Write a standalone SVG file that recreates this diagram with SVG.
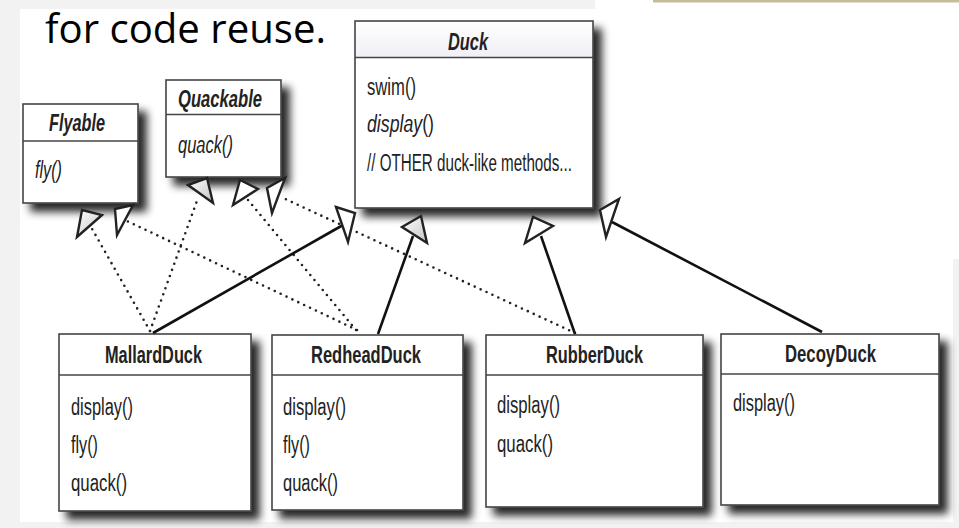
<svg xmlns="http://www.w3.org/2000/svg" width="959" height="528" viewBox="0 0 959 528">
<defs>
<filter id="sh" x="-20%" y="-20%" width="150%" height="150%">
<feGaussianBlur in="SourceAlpha" stdDeviation="4.5"/>
<feOffset dx="8" dy="8" result="b"/>
<feComponentTransfer><feFuncA type="linear" slope="0.85"/></feComponentTransfer>
<feMerge><feMergeNode/><feMergeNode in="SourceGraphic"/></feMerge>
</filter>
<linearGradient id="hg" x1="0" y1="0" x2="0" y2="1">
<stop offset="0" stop-color="#ffffff"/><stop offset="1" stop-color="#efeff6"/>
</linearGradient>
<linearGradient id="ag" x1="0" y1="0" x2="1" y2="1">
<stop offset="0" stop-color="#ffffff"/><stop offset="1" stop-color="#c4c4c4"/>
</linearGradient>
</defs>
<style>
.box{fill:#fff;stroke:#444;stroke-width:1.6}
.sep{stroke:#444;stroke-width:1.6}
.t{font-family:"Liberation Sans",Arial,sans-serif;font-weight:bold;font-size:24px;fill:#222}
.ti{font-style:italic}
.m{font-family:"Liberation Sans",Arial,sans-serif;font-size:23px;fill:#222}
.i{font-style:italic}
.dot{fill:none;stroke:#222;stroke-width:2.6;stroke-linecap:round;stroke-dasharray:0 6.5}
.sol{fill:none;stroke:#111;stroke-width:2.6}
.ah{stroke:#222;stroke-width:2.4;stroke-linejoin:miter}
.aw{fill:#fff}
.agr{fill:url(#ag)}
</style>
<rect x="0" y="0" width="959" height="528" fill="#f2f2f2"/>
<rect x="20" y="9" width="576" height="513" fill="#fff"/>
<rect x="595" y="0" width="364" height="259" fill="#fff"/>
<rect x="595" y="259" width="358" height="263" fill="#fff"/>
<rect x="653" y="0" width="306" height="2.5" fill="#c7bc98"/>
<text x="45" y="43" font-family="'Open Sans','Noto Sans',sans-serif" font-size="40" fill="#000" textLength="281" lengthAdjust="spacingAndGlyphs">for code reuse.</text>

<g id="Duck">
<g filter="url(#sh)"><rect class="box" x="355" y="21" width="238" height="187"/></g>
<rect x="356" y="22" width="236" height="35" fill="url(#hg)"/>
<line class="sep" x1="355" y1="57.5" x2="593" y2="57.5"/>
<text class="t ti" x="448" y="50" textLength="40" lengthAdjust="spacingAndGlyphs">Duck</text>
<text class="m" x="367" y="95" textLength="49" lengthAdjust="spacingAndGlyphs">swim()</text>
<text class="m" x="367" y="132" textLength="67" lengthAdjust="spacingAndGlyphs"><tspan class="i">display</tspan>()</text>
<text class="m" x="367" y="171" textLength="205" lengthAdjust="spacingAndGlyphs">// OTHER duck-like methods...</text>
</g>

<g id="Flyable">
<g filter="url(#sh)"><rect class="box" x="23" y="104" width="115" height="99"/></g>
<line class="sep" x1="23" y1="141" x2="138" y2="141"/>
<text class="t ti" x="49" y="131" textLength="56" lengthAdjust="spacingAndGlyphs">Flyable</text>
<text class="m i" x="35" y="178" textLength="27" lengthAdjust="spacingAndGlyphs">fly()</text>
</g>

<g id="Quackable">
<g filter="url(#sh)"><rect class="box" x="166" y="80" width="115" height="97"/></g>
<line class="sep" x1="166" y1="114.5" x2="281" y2="114.5"/>
<text class="t ti" x="178" y="107" textLength="84" lengthAdjust="spacingAndGlyphs">Quackable</text>
<text class="m i" x="178" y="153" textLength="55" lengthAdjust="spacingAndGlyphs">quack()</text>
</g>

<g id="MallardDuck">
<g filter="url(#sh)"><rect class="box" x="59" y="334" width="192" height="177"/></g>
<line class="sep" x1="59" y1="375" x2="251" y2="375"/>
<text class="t" x="105" y="363" textLength="97" lengthAdjust="spacingAndGlyphs">MallardDuck</text>
<text class="m" x="71" y="415" textLength="62" lengthAdjust="spacingAndGlyphs">display()</text>
<text class="m" x="71" y="453" textLength="27" lengthAdjust="spacingAndGlyphs">fly()</text>
<text class="m" x="71" y="491" textLength="56" lengthAdjust="spacingAndGlyphs">quack()</text>
</g>

<g id="RedheadDuck">
<g filter="url(#sh)"><rect class="box" x="272" y="335" width="191" height="175"/></g>
<line class="sep" x1="272" y1="375" x2="463" y2="375"/>
<text class="t" x="311" y="363" textLength="110" lengthAdjust="spacingAndGlyphs">RedheadDuck</text>
<text class="m" x="283" y="415" textLength="63" lengthAdjust="spacingAndGlyphs">display()</text>
<text class="m" x="283" y="453" textLength="27" lengthAdjust="spacingAndGlyphs">fly()</text>
<text class="m" x="283" y="491" textLength="55" lengthAdjust="spacingAndGlyphs">quack()</text>
</g>

<g id="RubberDuck">
<g filter="url(#sh)"><rect class="box" x="486" y="335" width="217" height="172"/></g>
<line class="sep" x1="486" y1="375" x2="703" y2="375"/>
<text class="t" x="546" y="363" textLength="97" lengthAdjust="spacingAndGlyphs">RubberDuck</text>
<text class="m" x="497" y="413" textLength="63" lengthAdjust="spacingAndGlyphs">display()</text>
<text class="m" x="497" y="452" textLength="56" lengthAdjust="spacingAndGlyphs">quack()</text>
</g>

<g id="DecoyDuck">
<g filter="url(#sh)"><rect class="box" x="721" y="334" width="218" height="171"/></g>
<line class="sep" x1="721" y1="374" x2="939" y2="374"/>
<text class="t" x="785" y="362" textLength="91" lengthAdjust="spacingAndGlyphs">DecoyDuck</text>
<text class="m" x="733" y="411" textLength="62" lengthAdjust="spacingAndGlyphs">display()</text>
</g>

<g id="connectors">
<line class="dot" x1="150" y1="331" x2="91" y2="227"/>
<line class="dot" x1="357" y1="330" x2="127" y2="221"/>
<line class="dot" x1="150" y1="331" x2="198" y2="198"/>
<line class="dot" x1="356" y1="330" x2="248" y2="200"/>
<line class="dot" x1="575" y1="333" x2="281" y2="197"/>
<line class="sol" x1="153" y1="333" x2="343" y2="225"/>
<line class="sol" x1="378" y1="334" x2="413" y2="236"/>
<line class="sol" x1="575" y1="334" x2="541" y2="236"/>
<line class="sol" x1="822" y1="332" x2="612" y2="222"/>
<polygon class="ah agr" points="82,210 102,215 77,237"/>
<polygon class="ah aw" points="115,209 133,205 117,235"/>
<polygon class="ah agr" points="188,185 207,178 213,203"/>
<polygon class="ah aw" points="240,180 258,189 233,205"/>
<polygon class="ah aw" points="267,188 285,178 272,213"/>
<polygon class="ah aw" points="336,207 355,213 348,242"/>
<polygon class="ah agr" points="402,227 421,216 427,243"/>
<polygon class="ah aw" points="525,243 533,217 553,226"/>
<polygon class="ah aw" points="600,210 619,199 606,237"/>
</g>
</svg>
